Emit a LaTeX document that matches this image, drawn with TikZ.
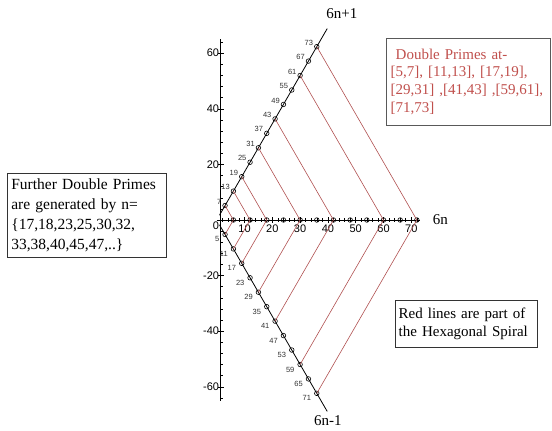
\documentclass[tikz,border=0pt]{standalone}
\usepackage{fontspec}
\setmainfont{Liberation Serif}
\newfontfamily\plotfont{Liberation Sans}
\usetikzlibrary{positioning, calc}
\definecolor{spiral}{HTML}{B05050}
\definecolor{boxred}{HTML}{C0504D}
\definecolor{labelgray}{HTML}{333333}
\tikzset{
    axisline/.style={
        line width=0.8pt, draw=black
    },
    primeline/.style={
        line width=0.8pt, draw=black
    },
    hexline/.style={
        line width=0.6pt, draw=spiral
    },
    ring/.style={
        circle, draw=black, line width=0.6pt, inner sep=0pt, minimum size=4.6pt
    },
    numlabel/.style={
        font=\plotfont\fontsize{7.5}{8}\selectfont, text=labelgray, inner sep=0.5pt
    },
    ticklabel/.style={
        font=\plotfont\fontsize{11}{12}\selectfont, inner sep=1pt
    },
    linename/.style={
        font=\fontsize{15}{17}\selectfont, inner sep=1pt
    },
    notebox/.style={
        rectangle, draw=black!80, line width=0.8pt, align=left,
        inner xsep=4pt, inner ysep=3pt
    }
}

\begin{document}
\begin{tikzpicture}[x=2.78pt, y=2.78pt]

    \useasboundingbox (-77.95,-75.54) rectangle (120.61,79.14);

    % ── Axes ──
    \coordinate (xstart) at (0,0);
    \coordinate (xend)   at (73.2,0);
    \coordinate (ybot)   at (1.5,-65);
    \coordinate (ytop)   at (1.5,65);
    \draw[axisline] (xstart) -- (xend);
    \draw[axisline] (ybot) -- (ytop);

    \foreach \t in {2,4,...,72}
        \draw[line width=0.5pt] (\t,-0.55) -- (\t,0.55);
    \foreach \t in {10,20,...,70} {
        \draw[line width=0.6pt] (\t,-1.1) -- (\t,1.1);
        \node[ticklabel, anchor=north] (xl\t) at (\t,-1.2) {\t};
    }
    \foreach \t in {-64,-60,...,64}
        \draw[line width=0.5pt] (1.5,\t) -- (2.3,\t);
    \foreach \t in {-60,-40,-20,20,40,60} {
        \draw[line width=0.6pt] (0.4,\t) -- (2.6,\t);
        \node[ticklabel, anchor=east] (yl\t) at (1.3,\t) {\t};
    }
    \node[ticklabel] (zero) at (-0.25,-2.2) {0};

    % ── Points on the three rays ──
    \foreach \n in {1,...,12} {
        \pgfmathtruncatemacro{\p}{6*\n+1}
        \pgfmathtruncatemacro{\q}{6*\n-1}
        \pgfmathtruncatemacro{\m}{6*\n}
        \node[ring] (up\n) at (60:\m) {};
        \node[ring] (dn\n) at (-60:\m) {};
        \node[ring] (ax\n) at (\m,0) {};
        \node[numlabel, anchor=east] (upl\n) at ($(up\n)+(-3pt,4pt)$) {\p};
        \node[numlabel, anchor=east] (dnl\n) at ($(dn\n)+(-5pt,-5pt)$) {\q};
    }

    % ── 6n+1 and 6n-1 lines ──
    \coordinate (upstart) at (60:2);
    \coordinate (upend)   at (60:79.5);
    \coordinate (dnstart) at (-60:2);
    \coordinate (dnend)   at (-60:79.5);
    \draw[primeline] (upstart) -- (upend);
    \draw[primeline] (dnstart) -- (dnend);

    \node[linename] (plusname)  at (45,74.3)   {6n+1};
    \node[linename] (minusname) at (40,-72.3)  {6n-1};
    \node[linename, anchor=west] (sixn) at (77.3,0) {6n};

    % ── Hexagonal spiral pieces ──
    \foreach \n in {1,2,3,5,7,10,12}
        \draw[hexline] (up\n.center) -- (ax\n.center) -- (dn\n.center);

    % ── Notes ──
    \node[notebox, draw=black!65, text=boxred, text width=156pt,
          minimum height=86.7pt, font=\fontsize{15}{17.5}\selectfont]
          (twins) at (90.65,49.75)
          {\hspace*{5pt}Double Primes at-\\{}[5,7], [11,13], [17,19],\\{}[29,31] ,[41,43] ,[59,61],\\{}[71,73]};

    \node[notebox, text width=151.4pt, minimum height=84.4pt,
          font=\fontsize{15.5}{19.8}\selectfont]
          (further) at (-46.65,1.62)
          {Further Double Primes\\are generated by n=\\\{17,18,23,25,30,32,\\33,38,40,45,47,..\}};

    \node[notebox, text width=135pt, inner xsep=3.65pt, minimum height=47.3pt,
          font=\fontsize{15}{17.7}\selectfont]
          (spiralnote) at (89.75,-37.3)
          {Red lines are part of\\the Hexagonal Spiral};

\end{tikzpicture}
\end{document}
